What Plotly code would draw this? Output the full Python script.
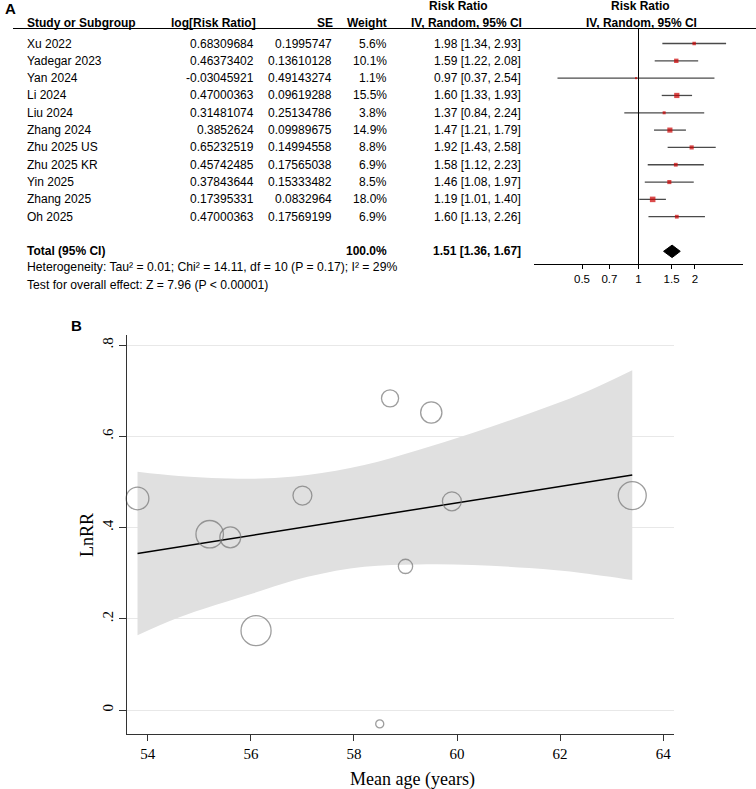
import plotly.graph_objects as go
import math

# ---------------- Data (panel A: forest plot) ----------------
studies = ["Xu 2022", "Yadegar 2023", "Yan 2024", "Li 2024", "Liu 2024", "Zhang 2024",
           "Zhu 2025 US", "Zhu 2025 KR", "Yin 2025", "Zhang 2025", "Oh 2025"]
log_rr_text = ["0.68309684", "0.46373402", "-0.03045921", "0.47000363", "0.31481074",
               "0.3852624", "0.65232519", "0.45742485", "0.37843644", "0.17395331", "0.47000363"]
se_text = ["0.1995747", "0.13610128", "0.49143274", "0.09619288", "0.25134786",
           "0.09989675", "0.14994558", "0.17565038", "0.15333482", "0.0832964", "0.17569199"]
weight = [5.6, 10.1, 1.1, 15.5, 3.8, 14.9, 8.8, 6.9, 8.5, 18.0, 6.9]
rr = [1.98, 1.59, 0.97, 1.60, 1.37, 1.47, 1.92, 1.58, 1.46, 1.19, 1.60]
rr_lo = [1.34, 1.22, 0.37, 1.33, 0.84, 1.21, 1.43, 1.12, 1.08, 1.01, 1.13]
rr_hi = [2.93, 2.08, 2.54, 1.93, 2.24, 1.79, 2.58, 2.23, 1.97, 1.40, 2.26]
total_rr, total_lo, total_hi = 1.51, 1.36, 1.67
total_weight = "100.0%"
heterogeneity = "Heterogeneity: Tau\u00b2 = 0.01; Chi\u00b2 = 14.11, df = 10 (P = 0.17); I\u00b2 = 29%"
overall = "Test for overall effect: Z = 7.96 (P < 0.00001)"
forest_ticks = [0.5, 0.7, 1, 1.5, 2]
forest_ticktext = ["0.5", "0.7", "1", "1.5", "2"]

# ---------------- Data (panel B: meta-regression) ----------------
log_rr = [float(v) for v in log_rr_text]
mean_age = [58.7, 53.8, 58.5, 63.4, 59.0, 55.2, 59.5, 59.9, 55.6, 56.1, 57.0]
band_age = [53.8, 54.6, 56.05, 57.1, 58.2, 59.25, 60.3, 61.4, 62.45, 63.4]
band_upper = [0.522, 0.513, 0.507, 0.515, 0.537, 0.570, 0.607, 0.650, 0.695, 0.745]
band_lower = [0.164, 0.203, 0.256, 0.292, 0.314, 0.319, 0.318, 0.311, 0.300, 0.285]
fit_age = [53.8, 63.4]
fit_lnrr = [0.343, 0.515]
age_ticks = [54, 56, 58, 60, 62, 64]
lnrr_ticks = [0, 0.2, 0.4, 0.6, 0.8]
lnrr_ticktext = ["0", ".2", ".4", ".6", ".8"]

W, H = 756, 789
SANS = "Arial, 'Liberation Sans', sans-serif"
SERIF = "'Times New Roman', 'Liberation Serif', serif"
n = len(studies)
rows = list(range(n))
total_row = n + 1

fig = go.Figure()

# ---- forest: CI lines
cx, cy = [], []
for i in rows:
    cx += [rr_lo[i], rr_hi[i], None]
    cy += [i, i, None]
fig.add_trace(go.Scatter(x=cx, y=cy, mode="lines", line=dict(color="#4a4a4a", width=1.3),
                         xaxis="x", yaxis="y", hoverinfo="skip"))
# line of no effect
fig.add_trace(go.Scatter(x=[1, 1], y=[-0.9, 12.75], mode="lines",
                         line=dict(color="#000000", width=1), xaxis="x", yaxis="y",
                         hoverinfo="skip"))
# squares
fig.add_trace(go.Scatter(x=rr, y=rows, mode="markers",
                         marker=dict(symbol="square", color="#cc0000",
                                     size=[1.1 * math.sqrt(w) + 0.9 for w in weight],
                                     line=dict(width=0)),
                         xaxis="x", yaxis="y"))
# diamond
dh = 0.36
fig.add_trace(go.Scatter(x=[total_lo, total_rr, total_hi, total_rr, total_lo],
                         y=[total_row, total_row - dh, total_row, total_row + dh, total_row],
                         mode="lines", fill="toself", fillcolor="#000000",
                         line=dict(color="#000000", width=1), xaxis="x", yaxis="y"))

# ---- panel B: confidence band
fig.add_trace(go.Scatter(x=band_age, y=band_lower, mode="lines", line=dict(width=0, shape="spline"),
                         xaxis="x2", yaxis="y2", hoverinfo="skip"))
fig.add_trace(go.Scatter(x=band_age, y=band_upper, mode="lines", line=dict(width=0, shape="spline"),
                         fill="tonexty", fillcolor="#e0e0e0", xaxis="x2", yaxis="y2",
                         hoverinfo="skip"))
# fitted line
fig.add_trace(go.Scatter(x=fit_age, y=fit_lnrr, mode="lines", line=dict(color="#000000", width=1.5),
                         xaxis="x2", yaxis="y2"))
# bubbles
fig.add_trace(go.Scatter(x=mean_age, y=log_rr, mode="markers", text=studies,
                         marker=dict(symbol="circle-open", color="#737373",
                                     size=[6.9 * math.sqrt(w) + 0.8 for w in weight],
                                     line=dict(width=1.3)),
                         xaxis="x2", yaxis="y2", cliponaxis=False))

# ---- annotations
ann = []


def txt(px, row, text, anchor="left", bold=False, size=12, yref="y"):
    ann.append(dict(x=px / W, xref="paper", y=row, yref=yref, text=("<b>%s</b>" % text) if bold else text,
                    showarrow=False, xanchor=anchor, yanchor="middle",
                    font=dict(family=SANS, size=size, color="#000000")))


hdr1, hdr2 = -1.19, -2.18
txt(25, hdr1, "Study or Subgroup", bold=True)
txt(258, hdr1, "log[Risk Ratio]", anchor="right", bold=True)
txt(335, hdr1, "SE", anchor="right", bold=True)
txt(389, hdr1, "Weight", anchor="right", bold=True)
txt(458, hdr2, "Risk Ratio", anchor="center", bold=True)
txt(467, hdr1, "IV, Random, 95% CI", anchor="center", bold=True)
txt(640, hdr2, "Risk Ratio", anchor="center", bold=True)
txt(641, hdr1, "IV, Random, 95% CI", anchor="center", bold=True)

for i in rows:
    txt(25, i, studies[i])
    txt(256, i, log_rr_text[i], anchor="right")
    txt(334, i, se_text[i], anchor="right")
    txt(389, i, "%.1f%%" % weight[i], anchor="right")
    txt(523, i, "%.2f [%.2f, %.2f]" % (rr[i], rr_lo[i], rr_hi[i]), anchor="right")

txt(25, total_row, "Total (95% CI)", bold=True)
txt(389, total_row, total_weight, anchor="right", bold=True)
txt(523, total_row, "%.2f [%.2f, %.2f]" % (total_rr, total_lo, total_hi), anchor="right", bold=True)
txt(25, total_row + 0.93, heterogeneity, size=12.2)
txt(25, total_row + 1.93, overall, size=12.2)

# panel letters
ann.append(dict(x=3 / W, xref="paper", y=1 - 8 / H, yref="paper", text="<b>A</b>", showarrow=False,
                xanchor="left", yanchor="middle", font=dict(family=SANS, size=15, color="#000")))
ann.append(dict(x=69 / W, xref="paper", y=1 - 325 / H, yref="paper", text="<b>B</b>", showarrow=False,
                xanchor="left", yanchor="middle", font=dict(family=SANS, size=15, color="#000")))
# panel B axis titles
ann.append(dict(x=412 / W, xref="paper", y=1 - 779 / H, yref="paper", text="Mean age (years)",
                showarrow=False, xanchor="center", yanchor="middle",
                font=dict(family=SERIF, size=18, color="#000")))
ann.append(dict(x=87 / W, xref="paper", y=1 - 535 / H, yref="paper", text="LnRR", textangle=-90,
                showarrow=False, xanchor="center", yanchor="middle",
                font=dict(family=SERIF, size=18, color="#000")))

shapes = [dict(type="line", xref="paper", yref="paper", x0=13 / W, x1=1, y0=1 - 28.5 / H, y1=1 - 28.5 / H,
               line=dict(color="#000000", width=1.2))]

# row -> pixel: y = 43.5 + 17.32*row
y_top = -43.5 / 17.32
y_bot = (300 - 43.5) / 17.32

fig.update_layout(
    width=W, height=H, margin=dict(l=0, r=0, t=0, b=0),
    paper_bgcolor="white", plot_bgcolor="white", showlegend=False,
    annotations=ann, shapes=shapes,
    xaxis=dict(type="log", range=[-0.557, 0.557], domain=[534 / W, 743 / W], anchor="free",
               position=1 - 264 / H, showgrid=False, zeroline=False, showline=True,
               linecolor="#000000", linewidth=1, ticks="outside", ticklen=4, tickcolor="#000000",
               tickvals=forest_ticks, ticktext=forest_ticktext,
               tickfont=dict(family=SANS, size=11.5, color="#000")),
    yaxis=dict(domain=[1 - 300 / H, 1], range=[y_bot, y_top], visible=False, anchor="x"),
    xaxis2=dict(domain=[126.7 / W, 674 / W], range=[53.59, 64.21], anchor="y2",
                showgrid=False, zeroline=False, showline=True, linecolor="#333333", linewidth=1.2,
                ticks="outside", ticklen=6, tickcolor="#333333", tickvals=age_ticks,
                tickfont=dict(family=SERIF, size=15, color="#000")),
    yaxis2=dict(domain=[1 - 734 / H, 1 - 335 / H], range=[-0.0526, 0.822], anchor="x2",
                showgrid=True, gridcolor="#e8e8e8", gridwidth=1, zeroline=False, showline=True,
                linecolor="#333333", linewidth=1.2, ticks="outside", ticklen=7, tickcolor="#333333",
                tickvals=lnrr_ticks, ticktext=lnrr_ticktext, tickangle=-90,
                tickfont=dict(family=SERIF, size=15, color="#000")),
)

fig.write_html("out.html", config={"displayModeBar": False},
               post_script="document.body.style.margin='0px';document.body.style.overflow='hidden';")
